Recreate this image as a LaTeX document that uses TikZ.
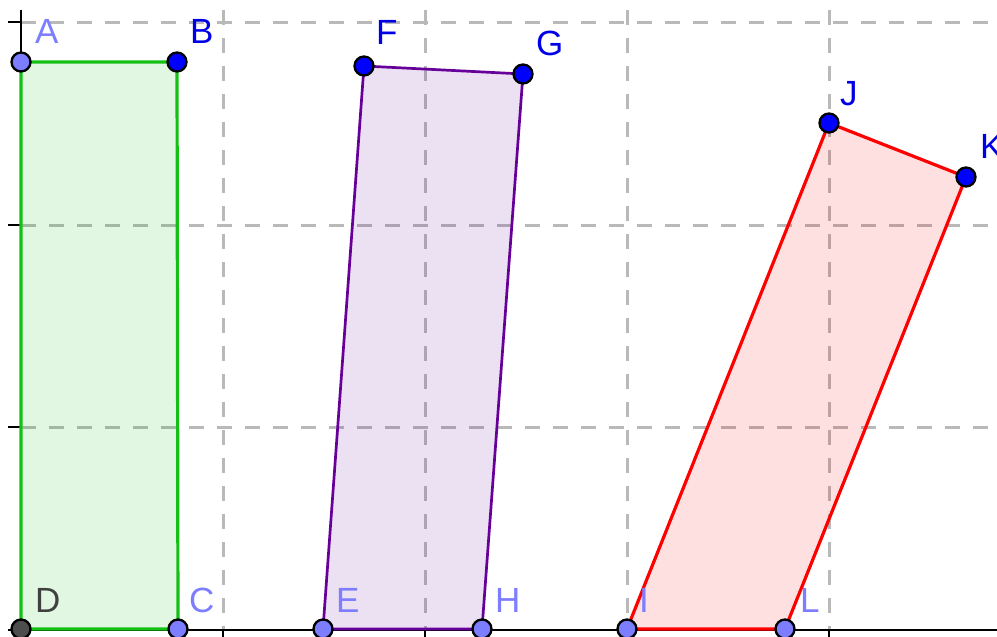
\documentclass[tikz,border=0pt]{standalone}
\usepackage{fontspec}
\setmainfont{Liberation Sans}
\definecolor{gridgray}{RGB}{185,185,185}
\definecolor{geogreen}{RGB}{20,192,20}
\definecolor{geopurple}{RGB}{102,0,153}
\definecolor{geored}{RGB}{255,0,0}
\definecolor{ptblue}{RGB}{0,0,255}
\definecolor{ptlight}{RGB}{125,125,255}
\definecolor{ptdark}{RGB}{77,77,77}
\definecolor{lblblue}{RGB}{0,0,230}
\definecolor{lbldark}{RGB}{64,64,64}
\begin{document}
\begin{tikzpicture}[x=1pt,y=-1pt,
  gridline/.style={draw=gridgray, line width=3pt, dash pattern=on 15pt off 13pt},
  axisline/.style={draw=black, line width=2.4pt},
  poly/.style={line width=3.2pt, line join=round, fill=#1, fill opacity=0.12, draw=#1, draw opacity=1},
  pt/.style={circle, draw=black, line width=2.3pt, minimum size=19pt, inner sep=0pt, fill=#1},
  lbl/.style={anchor=base west, inner sep=0pt, text=#1, font=\fontsize{35}{40}\selectfont},
]
\useasboundingbox (0,0) rectangle (997,637);
% grid
\foreach \x in {223,425,627,829} \draw[gridline] (\x,10) -- (\x,630);
\foreach \y in {22,225,427} \draw[gridline] (21,\y) -- (997,\y);
% axes
\draw[axisline] (8,630) -- (997,630);
\draw[axisline] (21,630) -- (21,10);
\foreach \x in {223,425,627,829} \draw[axisline] (\x,630) -- (\x,637);
\foreach \y in {22,225,427} \draw[axisline] (8,\y) -- (21,\y);
% points
\coordinate (A) at (21,62);
\coordinate (B) at (177,62);
\coordinate (C) at (178,629);
\coordinate (D) at (21,629);
\coordinate (E) at (323,629);
\coordinate (F) at (364,66);
\coordinate (G) at (523,74);
\coordinate (H) at (482,629);
\coordinate (I) at (627,629);
\coordinate (J) at (829,123);
\coordinate (K) at (966,177);
\coordinate (L) at (785,629);
% polygons
\draw[poly=geogreen] (A) -- (B) -- (C) -- (D) -- cycle;
\draw[poly=geopurple, line width=2.7pt] (E) -- (F) -- (G) -- (H) -- cycle;
\draw[poly=geored] (I) -- (J) -- (K) -- (L) -- cycle;
% point markers
\node[pt=ptlight] (pA) at (A) {};
\node[pt=ptblue] (pB) at (B) {};
\node[pt=ptlight] (pC) at (C) {};
\node[pt=ptdark] (pD) at (D) {};
\node[pt=ptlight] (pE) at (E) {};
\node[pt=ptblue] (pF) at (F) {};
\node[pt=ptblue] (pG) at (G) {};
\node[pt=ptlight] (pH) at (H) {};
\node[pt=ptlight] (pI) at (I) {};
\node[pt=ptblue] (pJ) at (J) {};
\node[pt=ptblue] (pK) at (K) {};
\node[pt=ptlight] (pL) at (L) {};
% labels
\node[lbl=ptlight] (lA) at (35,43) {A};
\node[lbl=lblblue] (lB) at (190,43) {B};
\node[lbl=ptlight] (lC) at (189,612) {C};
\node[lbl=lbldark] (lD) at (35,612) {D};
\node[lbl=ptlight] (lE) at (336,612) {E};
\node[lbl=lblblue] (lF) at (376,45) {F};
\node[lbl=lblblue] (lG) at (536,55) {G};
\node[lbl=ptlight] (lH) at (495,612) {H};
\node[lbl=ptlight] (lI) at (639,612) {I};
\node[lbl=lblblue] (lJ) at (840,105) {J};
\node[lbl=lblblue] (lK) at (980,158) {K};
\node[lbl=ptlight] (lL) at (800,612) {L};
\end{tikzpicture}
\end{document}
